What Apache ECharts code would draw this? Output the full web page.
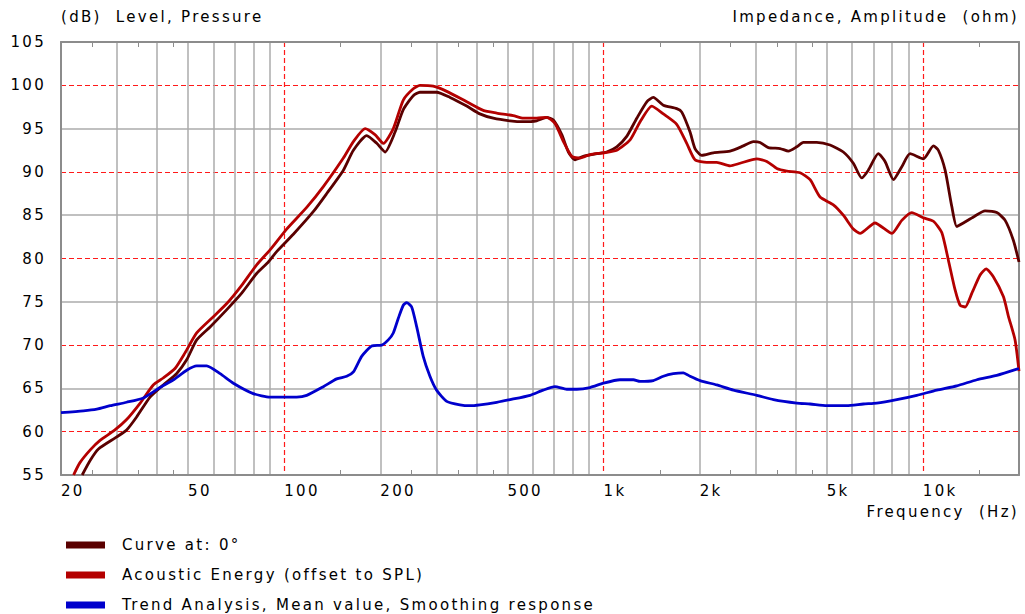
<!DOCTYPE html>
<html>
<head>
<meta charset="utf-8">
<script src="https://cdn.jsdelivr.net/npm/echarts@6/dist/echarts.min.js"></script>
<style>
  html, body { margin: 0; padding: 0; background: #fff; }
  #chart { width: 1025px; height: 614px; }
  #chart text { letter-spacing: 2.3px; }
</style>
</head>
<body>
<div id="chart"></div>
<script>
// frequency (Hz) / level (dB)
const curveFreq = [23.3, 24.7, 26.2, 29.9, 32.1, 34.5, 38.0, 41.8, 46.0, 49.5, 53.2, 58.6, 66.1, 73.6, 82.1, 89.2, 94.7, 106.8, 123.3, 135.9, 153.2, 164.7, 181.3, 194.9, 206.9, 222.4, 236, 253.6, 266, 300, 330.6, 372.8, 410, 451.6, 509.5, 561, 617.5, 663.4, 696, 740, 776, 814.5, 864, 952, 1023, 1100, 1182, 1271, 1366, 1432, 1539, 1695, 1758, 1866, 1934, 2030, 2208, 2490, 2741, 2946, 3092, 3282, 3572, 3792, 4029, 4225, 4652, 5120, 5634, 6056, 6433, 6748, 7252, 7614, 8087, 8590, 9117, 10036, 10790, 11180, 11740, 12320, 12770, 13390, 14400, 15660, 17040, 18100, 19200, 20000];
const curveDb = [55.0, 56.7, 58.0, 59.4, 60.2, 61.7, 64.0, 65.4, 66.7, 68.3, 70.6, 72.1, 74.1, 76.0, 78.3, 79.6, 80.8, 82.8, 85.4, 87.5, 90.2, 92.5, 94.2, 93.3, 92.3, 94.6, 97.2, 98.8, 99.2, 99.2, 98.6, 97.6, 96.7, 96.2, 95.9, 95.8, 95.9, 96.3, 96.0, 94.3, 92.3, 91.4, 91.8, 92.1, 92.3, 92.9, 94.1, 96.2, 98.1, 98.6, 97.7, 97.3, 96.9, 94.6, 92.7, 91.9, 92.2, 92.4, 93.0, 93.5, 93.4, 92.8, 92.7, 92.4, 92.9, 93.4, 93.4, 93.1, 92.3, 91.0, 89.3, 90.2, 92.1, 91.2, 89.1, 90.6, 92.1, 91.5, 93.0, 92.5, 90.2, 86.0, 83.7, 84.1, 84.8, 85.5, 85.3, 84.4, 82.1, 79.6];

const energyFreq = [21.9, 22.9, 24.7, 26.5, 29.5, 32.1, 35.4, 38.9, 41.8, 45.5, 48.9, 53.2, 59.3, 66.1, 73.6, 82.1, 90.3, 101.8, 117.6, 132.6, 153.2, 164.7, 179.2, 192.4, 204.4, 219.6, 236, 253.6, 266, 293, 322.8, 372.8, 420, 463, 521.5, 561, 617.5, 663.4, 704.5, 749, 795, 844.6, 907, 998.6, 1100, 1211, 1302, 1416, 1539, 1695, 1822, 1934, 2106, 2262, 2490, 2677, 3020, 3246, 3489, 3749, 4126, 4435, 4765, 5244, 5634, 6056, 6356, 7080, 8000, 8590, 9230, 10036, 10790, 11460, 12020, 12610, 13080, 13560, 14240, 15110, 15780, 16620, 17870, 18540, 19440, 20000];
const energyDb = [55.0, 56.4, 57.9, 59.0, 60.2, 61.4, 63.3, 65.4, 66.2, 67.3, 69.1, 71.4, 73.1, 74.8, 76.9, 79.3, 81.0, 83.4, 85.9, 88.3, 91.6, 93.5, 95.0, 94.3, 93.3, 95.0, 98.3, 99.6, 100.0, 99.9, 99.3, 98.1, 97.1, 96.8, 96.5, 96.2, 96.2, 96.3, 95.6, 93.5, 91.8, 91.6, 92.0, 92.2, 92.5, 93.7, 95.8, 97.6, 96.7, 95.5, 93.3, 91.4, 91.1, 91.1, 90.7, 91.0, 91.5, 91.2, 90.4, 90.1, 89.9, 89.1, 87.1, 86.2, 85.0, 83.4, 82.9, 84.1, 82.9, 84.4, 85.3, 84.7, 84.3, 83.0, 79.8, 76.4, 74.6, 74.4, 76.0, 78.1, 78.8, 77.9, 75.6, 73.3, 70.6, 67.0];

const trendFreq = [20, 23.5, 25.9, 28.5, 32.1, 36.2, 40.8, 45, 49.5, 53.2, 57.2, 63, 69.3, 80, 90.3, 109.4, 117.6, 132.6, 146, 156.9, 164.7, 174.8, 188, 202, 211.8, 219.6, 227.7, 236, 241.8, 250.7, 260, 272.5, 286, 300, 322.8, 355, 381.6, 410, 463, 509.5, 588.6, 647, 704.5, 767, 824.6, 907, 998.6, 1126, 1240, 1302, 1432, 1539, 1654, 1778, 1866, 2006, 2262, 2551, 3020, 3405, 4029, 4435, 5000, 5773, 6512, 7166, 8284, 9570, 11050, 12770, 14760, 17040, 20000];
const trendDb = [62.2, 62.4, 62.6, 63.0, 63.4, 63.9, 65.1, 66.0, 67.1, 67.6, 67.6, 66.7, 65.6, 64.4, 64.0, 64.0, 64.2, 65.2, 66.1, 66.4, 66.9, 68.7, 69.9, 70.0, 70.6, 71.4, 73.1, 74.6, 74.9, 74.4, 72.1, 68.7, 66.4, 64.8, 63.5, 63.1, 63.0, 63.1, 63.4, 63.7, 64.2, 64.8, 65.2, 64.9, 64.9, 65.1, 65.6, 66.0, 66.0, 65.8, 65.9, 66.4, 66.7, 66.8, 66.4, 65.9, 65.4, 64.8, 64.2, 63.7, 63.3, 63.2, 63.0, 63.0, 63.2, 63.3, 63.7, 64.2, 64.8, 65.3, 66.0, 66.5, 67.3];

const seriesNames = ['Curve at: 0°', 'Acoustic Energy (offset to SPL)', 'Trend Analysis, Mean value, Smoothing response'];

// axis ticks
const xLabelFreqs = [20, 50, 100, 200, 500, 1000, 2000, 5000, 10000];
const xLabelTexts = ['20', '50', '100', '200', '500', '1k', '2k', '5k', '10k'];
const minorTickFreqs = [25, 35, 45, 150, 250, 350, 450, 1500, 2500, 3500, 4500, 15000];
const grayGridFreqs = [30, 40, 50, 60, 70, 80, 90, 200, 300, 400, 500, 600, 700, 800, 900, 2000, 3000, 4000, 5000, 6000, 7000, 8000, 9000];
const decadeFreqs = [100, 1000, 10000];
const yLabels = [55, 60, 65, 70, 75, 80, 85, 90, 95, 100, 105];
const yGrayLines = [65, 75, 85, 95];
const yRedLines = [60, 70, 80, 90, 100];

const lg = Math.log10;
const xMin = lg(20);
const xMax = lg(20000);
const FONT = '"DejaVu Sans", Verdana, sans-serif';
const borderColor = '#8c8c8c';

const toXY = (fs, ds) => fs.map((f, i) => [lg(f), ds[i]]);

const chart = echarts.init(document.getElementById('chart'), null, { renderer: 'svg' });

const baseX = {
  type: 'value',
  min: xMin,
  max: xMax,
  axisLine: { show: false, onZero: false },
  axisTick: { show: false },
  axisLabel: { show: false },
  splitLine: { show: false },
};

const option = {
  animation: false,
  backgroundColor: '#fff',
  grid: { left: 61, right: 6, top: 42, bottom: 139, containLabel: false, outerBoundsMode: 'none' },
  xAxis: [
    {
      ...baseX,
      position: 'bottom',
      axisLine: { show: true, onZero: false, lineStyle: { color: borderColor, width: 2 } },
      axisTick: { show: true, inside: true, length: 5, customValues: minorTickFreqs.map(lg), lineStyle: { color: borderColor, width: 1 } },
      axisLabel: {
        show: true,
        customValues: xLabelFreqs.map(lg),
        formatter: (v) => {
          const i = xLabelFreqs.findIndex((f) => Math.abs(lg(f) - v) < 1e-4);
          return i >= 0 ? xLabelTexts[i] : '';
        },
        align: 'left',
        margin: 8,
        color: '#000',
        fontFamily: FONT,
        fontSize: 15,
      },
    },
    {
      ...baseX,
      position: 'top',
      axisLine: { show: true, onZero: false, lineStyle: { color: borderColor, width: 2 } },
      axisTick: { show: true, inside: true, length: 5, customValues: minorTickFreqs.map(lg), lineStyle: { color: borderColor, width: 1 } },
    },
    {
      ...baseX,
      position: 'bottom',
      axisTick: { show: false, customValues: grayGridFreqs.map(lg) },
      splitLine: { show: true, lineStyle: { color: '#ababab', width: 1.5 } },
    },
    {
      ...baseX,
      position: 'bottom',
      axisTick: { show: false, customValues: decadeFreqs.map(lg) },
      splitLine: { show: true, lineStyle: { color: '#ff1a1a', width: 1.2, type: [5, 3] } },
    },
  ],
  yAxis: [
    {
      type: 'value',
      min: 55,
      max: 105,
      position: 'left',
      axisLine: { show: true, onZero: false, lineStyle: { color: borderColor, width: 2 } },
      axisTick: { show: false, customValues: yGrayLines },
      axisLabel: { customValues: yLabels, margin: 15, color: '#000', fontFamily: FONT, fontSize: 15 },
      splitLine: { show: true, lineStyle: { color: '#ababab', width: 1.5 } },
    },
    {
      type: 'value',
      min: 55,
      max: 105,
      position: 'right',
      axisLine: { show: true, onZero: false, lineStyle: { color: borderColor, width: 2 } },
      axisTick: { show: false, customValues: yRedLines },
      axisLabel: { show: false },
      splitLine: { show: true, lineStyle: { color: '#ff1a1a', width: 1.2, type: [5, 3] } },
    },
  ],
  legend: {
    orient: 'vertical',
    left: 66,
    top: 531,
    width: 600,
    height: 120,
    padding: 0,
    itemWidth: 39,
    itemHeight: 7,
    itemGap: 2,
    icon: 'rect',
    data: seriesNames,
    textStyle: { color: '#000', fontFamily: FONT, fontSize: 15, lineHeight: 18, padding: [0, 0, 10, 12] },
  },
  graphic: [
    { type: 'text', x: 61, y: 17, style: { text: '(dB)  Level, Pressure', fill: '#000', font: '15px ' + FONT, align: 'left', verticalAlign: 'middle', textAlign: 'left', textVerticalAlign: 'middle' } },
    { type: 'text', x: 1019, y: 17, style: { text: 'Impedance, Amplitude  (ohm)', fill: '#000', font: '15px ' + FONT, align: 'right', verticalAlign: 'middle', textAlign: 'right', textVerticalAlign: 'middle' } },
    { type: 'text', x: 1019, y: 512, style: { text: 'Frequency  (Hz)', fill: '#000', font: '15px ' + FONT, align: 'right', verticalAlign: 'middle', textAlign: 'right', textVerticalAlign: 'middle' } },
  ],
  series: [
    {
      name: seriesNames[0],
      type: 'line',
      data: toXY(curveFreq, curveDb),
      showSymbol: false,
      smooth: 0.2,
      color: '#5a0000',
      lineStyle: { color: '#5a0000', width: 2.8 },
    },
    {
      name: seriesNames[1],
      type: 'line',
      data: toXY(energyFreq, energyDb),
      showSymbol: false,
      smooth: 0.2,
      color: '#b40000',
      lineStyle: { color: '#b40000', width: 2.8 },
    },
    {
      name: seriesNames[2],
      type: 'line',
      data: toXY(trendFreq, trendDb),
      showSymbol: false,
      smooth: 0.2,
      color: '#0000cc',
      lineStyle: { color: '#0000cc', width: 2.8 },
    },
  ],
};

chart.setOption(option);
</script>
</body>
</html>
